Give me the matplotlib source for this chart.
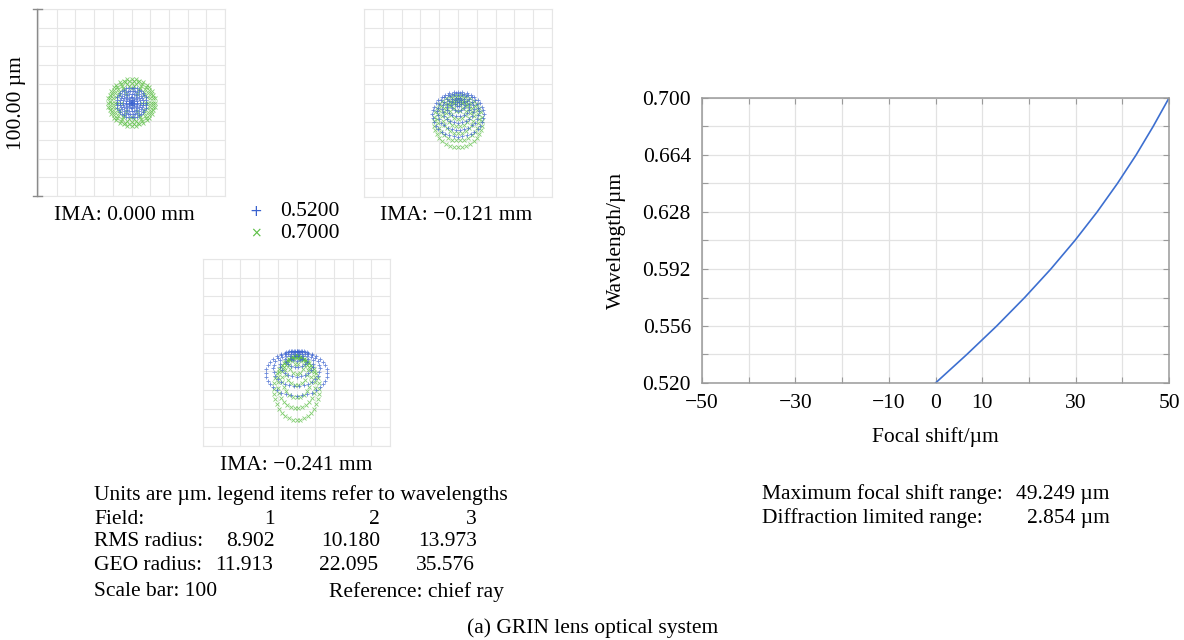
import matplotlib
matplotlib.use("Agg")
import matplotlib.pyplot as plt
from matplotlib.lines import Line2D
import numpy as np

plt.rcParams['font.family'] = ['Liberation Serif', 'DejaVu Serif']

W, H = 1184, 640

# longitudinal chromatic focal shift
wavelength = [0.520, 0.538, 0.556, 0.574, 0.592, 0.610, 0.628, 0.646, 0.664, 0.682, 0.700]
focal_shift = [0.0, 6.7, 13.1, 19.1, 24.7, 29.85, 34.6, 38.95, 42.95, 46.6, 50.0]

x_ticks = [-50, -40, -30, -20, -10, 0, 10, 20, 30, 40, 50]
x_labels = ['\u221250', '', '\u221230', '', '\u221210', '0', '10', '', '30', '', '50']
y_ticks = [0.520, 0.538, 0.556, 0.574, 0.592, 0.610, 0.628, 0.646, 0.664, 0.682, 0.700]
y_labels = ['0.520', '', '0.556', '', '0.592', '', '0.628', '', '0.664', '', '0.700']

# spot diagram rings (um): x radius, y radius, downward centre offset
blue_f1_rx = [0.5, 1.5, 3.0, 4.5, 6.2, 8.0]
blue_f1_ry = [0.5, 1.5, 3.0, 4.5, 6.2, 8.0]
blue_f1_dy = [0, 0, 0, 0, 0, 0]
green_f1_rx = [5.5, 7.5, 9.0, 10.3, 11.5, 12.5]
green_f1_ry = [5.5, 7.5, 9.0, 10.3, 11.5, 12.5]
green_f1_dy = [0, 0, 0, 0, 0, 0]

blue_f2_rx = [1.5, 3.5, 6.0, 8.5, 11.0, 13.6]
blue_f2_ry = [1.3, 3.0, 5.0, 7.5, 10.0, 12.0]
blue_f2_dy = [0.5, 1.0, 2.0, 3.0, 4.5, 6.0]
green_f2_rx = [2.0, 4.0, 6.5, 8.5, 11.0, 13.0]
green_f2_ry = [2.0, 4.5, 7.0, 9.0, 11.5, 13.9]
green_f2_dy = [2.5, 4.0, 5.5, 7.0, 8.5, 9.6]

blue_f3_rx = [1.5, 3.5, 6.0, 9.0, 12.5, 16.5]
blue_f3_ry = [1.2, 2.5, 4.5, 7.0, 9.5, 12.0]
blue_f3_dy = [1.0, 2.0, 3.5, 6.0, 8.5, 11.0]
green_f3_rx = [2.0, 4.0, 6.0, 8.0, 10.0, 12.0]
green_f3_ry = [2.5, 5.0, 8.0, 11.0, 14.0, 16.7]
green_f3_dy = [4.0, 6.5, 9.5, 13.0, 16.0, 19.4]

field_names = ['IMA: 0.000 mm', 'IMA: \u22120.121 mm', 'IMA: \u22120.241 mm']
legend_waves = ['0.5200', '0.7000']
rms_radius = ['8.902', '10.180', '13.973']
geo_radius = ['11.913', '22.095', '35.576']

BLUE = '#3a62cf'
GREEN = '#5cbf45'


def box(x0, y0, x1, y1):
    return [x0 / W, 1 - y1 / H, (x1 - x0) / W, (y1 - y0) / H]


def ftext(fig, x, y, s, **kw):
    kw.setdefault('va', 'center')
    kw.setdefault('fontsize', 15.5)
    fig.text(x / W, 1 - y / H, s, **kw)


def ring_points(rx, ry, dy):
    xs, ys = [], []
    for k in range(len(rx)):
        n = 6 * (k + 1)
        t = np.arange(n) * 2 * np.pi / n
        xs.append(rx[k] * np.cos(t))
        ys.append(-dy[k] + ry[k] * np.sin(t))
    return np.concatenate(xs), np.concatenate(ys)


def spot_axes(fig, rect, blue, green):
    ax = fig.add_axes(rect)
    ax.set_xlim(-50, 50)
    ax.set_ylim(-50, 50)
    ax.set_xticks(np.arange(-50, 51, 10))
    ax.set_yticks(np.arange(-50, 51, 10))
    ax.tick_params(length=0, labelbottom=False, labelleft=False)
    ax.grid(color='#e6e6e6', lw=0.8)
    for s in ax.spines.values():
        s.set_color('#e6e6e6')
    gx, gy = ring_points(*green)
    bx, by = ring_points(*blue)
    ax.plot(gx, gy, 'x', color=GREEN, ms=2.4, mew=0.6, alpha=0.75)
    ax.plot(bx, by, '+', color=BLUE, ms=3.0, mew=0.6, alpha=0.75)
    return ax


fig = plt.figure(figsize=(W / 100, H / 100), dpi=100)

spot_axes(fig, box(38, 9, 225, 196),
          (blue_f1_rx, blue_f1_ry, blue_f1_dy), (green_f1_rx, green_f1_ry, green_f1_dy))
spot_axes(fig, box(364, 9, 552, 197),
          (blue_f2_rx, blue_f2_ry, blue_f2_dy), (green_f2_rx, green_f2_ry, green_f2_dy))
spot_axes(fig, box(203, 259, 390, 446),
          (blue_f3_rx, blue_f3_ry, blue_f3_dy), (green_f3_rx, green_f3_ry, green_f3_dy))

# scale bar
sb = '#8a8a8a'
fig.add_artist(Line2D([37 / W, 37 / W], [1 - 9 / H, 1 - 196 / H], color=sb, lw=1))
for yy in (9, 196):
    fig.add_artist(Line2D([33 / W, 42 / W], [1 - yy / H, 1 - yy / H], color=sb, lw=1))
ftext(fig, 17, 103, '100.00 \u00b5m', rotation=90, ha='center')

ftext(fig, 124, 215, field_names[0], ha='center')
ftext(fig, 456, 215, field_names[1], ha='center')
ftext(fig, 296, 465, field_names[2], ha='center')

# wavelength legend
ftext(fig, 256, 211, '+', ha='center', color=BLUE, fontsize=11, family='DejaVu Sans')
ftext(fig, 256, 233, '\u00d7', ha='center', color=GREEN, fontsize=10, family='DejaVu Sans')
ftext(fig, 280, 211, legend_waves[0], ha='left')
ftext(fig, 280, 233, legend_waves[1], ha='left')

# spot statistics
rows = [495, 519, 542, 565, 592]
ftext(fig, 94, rows[0], 'Units are \u00b5m. legend items refer to wavelengths', ha='left')
ftext(fig, 94, rows[1], 'Field:', ha='left')
ftext(fig, 94, rows[2], 'RMS radius:', ha='left')
ftext(fig, 94, rows[3], 'GEO radius:', ha='left')
ftext(fig, 94, rows[4], 'Scale bar: 100', ha='left')
col_right = [275, 380, 477]
for i in range(3):
    ftext(fig, col_right[i], rows[1], str(i + 1), ha='right')
    ftext(fig, col_right[i], rows[2], rms_radius[i], ha='right')
    ftext(fig, col_right[i] - 2, rows[3], geo_radius[i], ha='right')
ftext(fig, 329, rows[4], 'Reference: chief ray', ha='left')

# focal shift plot
ax = fig.add_axes(box(702, 98, 1169, 383))
ax.plot(focal_shift, wavelength, color='#3d6fd0', lw=1.2)
ax.set_xlim(-50, 50)
ax.set_ylim(0.520, 0.700)
ax.set_xticks(x_ticks)
ax.set_xticklabels(x_labels)
ax.set_yticks(y_ticks)
ax.set_yticklabels(y_labels)
ax.grid(color='#e2e2e2', lw=0.9)
ax.tick_params(direction='in', length=4, color='#9a9a9a', top=True, right=True,
               labelsize=15.5, pad=8)
for s in ax.spines.values():
    s.set_color('#9a9a9a')
    s.set_linewidth(1.1)
ax.set_xlabel('Focal shift/\u00b5m', fontsize=15.5, labelpad=10)
ax.set_ylabel('Wavelength/\u00b5m', fontsize=15.5, labelpad=12)

ftext(fig, 762, 494, 'Maximum focal shift range:', ha='left')
ftext(fig, 762, 518, 'Diffraction limited range:', ha='left')
ftext(fig, 1110, 494, '49.249 \u00b5m', ha='right')
ftext(fig, 1110, 518, '2.854 \u00b5m', ha='right')

ftext(fig, 593, 628, '(a) GRIN lens optical system', ha='center')

fig.savefig('out.png', dpi=100)
